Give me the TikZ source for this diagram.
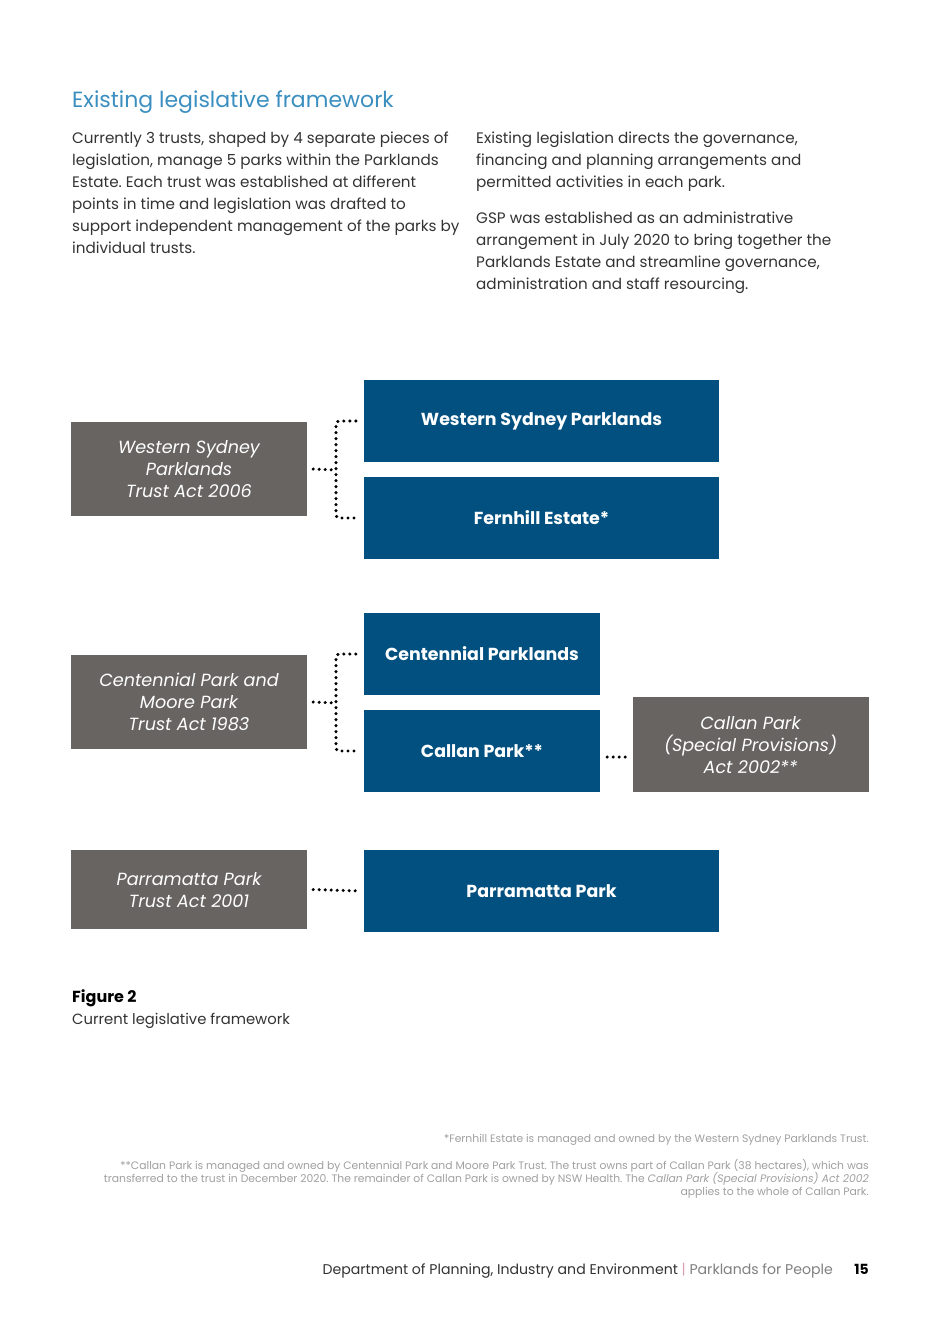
\documentclass[tikz,border=0pt]{standalone}
\usepackage{fontspec}
\setmainfont{Poppins}
\frenchspacing
\definecolor{pblue}{HTML}{02507F}
\definecolor{pgrey}{HTML}{676462}
\definecolor{ttl}{HTML}{3B8FC0}
\definecolor{fn}{HTML}{A0A0A0}
\definecolor{ft}{HTML}{333333}
\definecolor{pink}{HTML}{D9A0B0}
\tikzset{
  bluebox/.style={fill=pblue, text=white, font=\fontsize{17.4}{22}\selectfont\bfseries, align=center, inner sep=0pt},
  greybox/.style={fill=pgrey, text=white, font=\fontsize{17.6}{22}\selectfont\itshape, align=center, inner sep=0pt, minimum width=236pt, text depth=0pt},
  dots/.style={line width=3.4pt, line cap=round, dash pattern=on 0pt off 6pt, black, rounded corners=3pt},
  body/.style={anchor=base west, inner sep=0pt, font=\fontsize{15.2}{22}\selectfont, text=ft},
  fnote/.style={anchor=base east, inner sep=0pt, font=\fontsize{10.8}{13}\selectfont, text=fn},
}
\begin{document}
\begin{tikzpicture}[x=1pt,y=-1pt]
\useasboundingbox[fill=white] (0,0) rectangle (941,1330);
\node[anchor=base west, inner sep=0pt, font=\fontsize{22}{26}\selectfont, text=ttl] (title) at (72,107) {Existing legislative framework};
\node[body] (l1) at (72,143) {Currently 3 trusts, shaped by 4 separate pieces of};
\node[body] (l2) at (72,165) {legislation, manage 5 parks within the Parklands};
\node[body] (l3) at (72,187) {Estate. Each trust was established at different};
\node[body] (l4) at (72,209) {points in time and legislation was drafted to};
\node[body] (l5) at (72,231) {support independent management of the parks by};
\node[body] (l6) at (72,253) {individual trusts.};
\node[body] (r1) at (476,143) {Existing legislation directs the governance,};
\node[body] (r2) at (476,165) {financing and planning arrangements and};
\node[body] (r3) at (476,187) {permitted activities in each park.};
\node[body] (r4) at (476,223) {GSP was established as an administrative};
\node[body] (r5) at (476,245) {arrangement in July 2020 to bring together the};
\node[body] (r6) at (476,267) {Parklands Estate and streamline governance,};
\node[body] (r7) at (476,289) {administration and staff resourcing.};

% boxes
\node[greybox, minimum height=94pt] (wsa) at (189,469) {Western Sydney\\Parklands\\Trust Act 2006};
\node[bluebox, minimum width=355pt, minimum height=82pt] (wsp) at (541.5,421) {Western Sydney Parklands};
\node[bluebox, minimum width=355pt, minimum height=82pt] (fe) at (541.5,518) {Fernhill Estate*};
\node[greybox, minimum height=94pt] (cpa) at (189,702) {Centennial Park and\\Moore Park\\Trust Act 1983};
\node[bluebox, minimum width=236pt, minimum height=82pt] (cp) at (482,654) {Centennial Parklands};
\node[bluebox, minimum width=236pt, minimum height=82pt] (clp) at (482,751) {Callan Park**};
\node[greybox, minimum height=95pt] (cla) at (750.5,744.5) {Callan Park\\(Special Provisions)\\Act 2002**};
\node[greybox, minimum height=79pt] (ppa) at (189,889.5) {Parramatta Park\\Trust Act 2001};
\node[bluebox, minimum width=355pt, minimum height=82pt] (pp) at (541.5,891) {Parramatta Park};

% connectors
\coordinate (b1) at (336,470);
\coordinate (b2) at (336,703);
\coordinate (c1) at ([xshift=7pt,yshift=-6pt]clp.east);
\draw[dots] ([xshift=-8pt]wsp.west) -| (b1) |- ([xshift=-8pt]fe.west);
\draw[dots] ([xshift=6pt]wsa.east) -- (b1);
\draw[dots] ([xshift=-8pt]cp.west) -| (b2) |- ([xshift=-8pt]clp.west);
\draw[dots] ([xshift=6pt]cpa.east) -- (b2);
\draw[dots] (c1) -- ([xshift=-6pt]c1 -| cla.west);
\draw[dots] ([xshift=6pt]ppa.east) -- ([xshift=-4pt]pp.west);

% figure caption
\node[anchor=base west, inner sep=0pt, font=\fontsize{16}{18}\selectfont\bfseries, text=black] (fig) at (72,1002) {Figure 2};
\node[anchor=base west, inner sep=0pt, font=\fontsize{14.8}{18}\selectfont, text=ft] (cap) at (72,1024) {Current legislative framework};

% footnotes
\node[fnote] (f1) at (869,1142) {*Fernhill Estate is managed and owned by the Western Sydney Parklands Trust.};
\node[fnote] (f2) at (869,1169) {**Callan Park is managed and owned by Centennial Park and Moore Park Trust. The trust owns part of Callan Park (38 hectares), which was};
\node[fnote] (f3) at (869,1182) {transferred to the trust in December 2020. The remainder of Callan Park is owned by NSW Health. The \textit{Callan Park (Special Provisions) Act 2002}};
\node[fnote] (f4) at (869,1195) {applies to the whole of Callan Park.};

% footer
\node[anchor=base east, inner sep=0pt, font=\fontsize{14}{16}\selectfont\bfseries, text=black] (pg) at (869,1274) {15};
\node[anchor=base east, inner sep=0pt, font=\fontsize{14.1}{16}\selectfont] (foot) at (833,1274) {\textcolor{ft}{Department of Planning, Industry and Environment} \textcolor{pink}{|} \textcolor{gray}{Parklands for People}};
\end{tikzpicture}
\end{document}
